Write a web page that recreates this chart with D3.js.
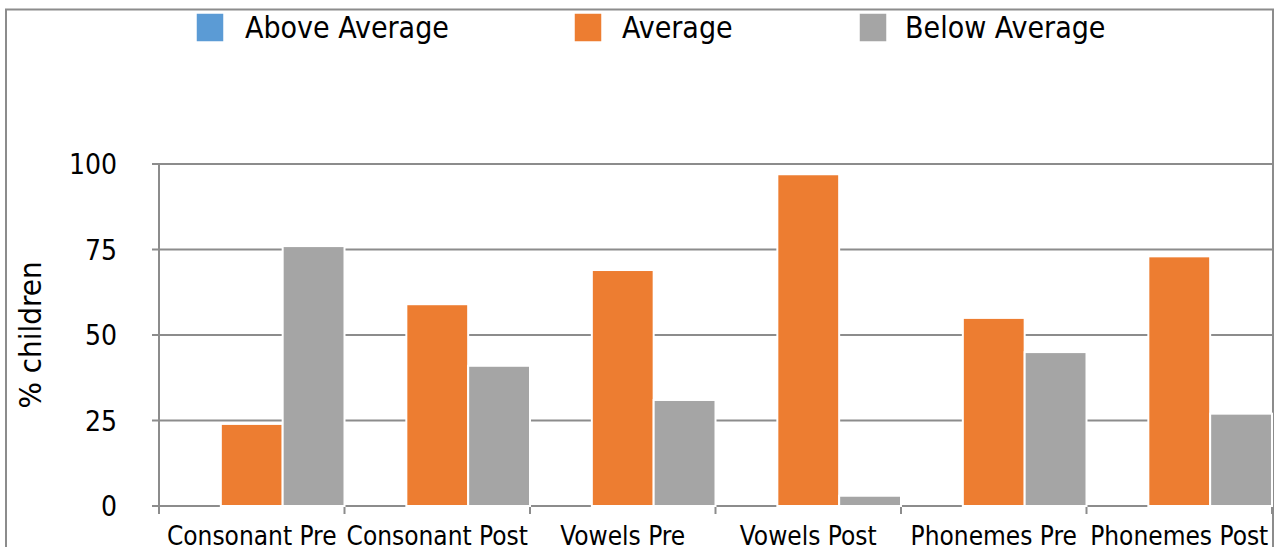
<!DOCTYPE html>
<html>
<head>
<meta charset="utf-8">
<script src="https://cdn.jsdelivr.net/npm/d3@7"></script>
<style>
  html, body { margin: 0; padding: 0; background: #ffffff; }
  svg { display: block; }
  text { font-family: "DejaVu Sans Condensed", "DejaVu Sans", sans-serif; fill: #000; }
</style>
</head>
<body>
<svg id="chart" width="1277" height="547"></svg>
<script>
// Test groups along the x axis
const categories = ["Consonant Pre", "Consonant Post", "Vowels Pre", "Vowels Post", "Phonemes Pre", "Phonemes Post"];
// Share of children (%) in each attainment band
const seriesNames = ["Above Average", "Average", "Below Average"];
const aboveAverage = [0, 0, 0, 0, 0, 0];
const average = [24, 59, 69, 97, 55, 73];
const belowAverage = [76, 41, 31, 3, 45, 27];
const yTicks = [0, 25, 50, 75, 100];
const seriesColors = ["#5B9BD5", "#ED7D31", "#A5A5A5"];

const seriesValues = [aboveAverage, average, belowAverage];
const rows = categories.map((c, i) => ({
  category: c,
  values: seriesNames.map((s, j) => ({ series: s, value: seriesValues[j][i] }))
}));

const svg = d3.select("#chart");
const plotLeft = 159, plotRight = 1272, plotTop = 164, plotBottom = 506;

const x = d3.scaleBand().domain(categories).range([plotLeft, plotRight]).paddingInner(0).paddingOuter(0);
const xInner = d3.scaleBand().domain(seriesNames).range([0, x.bandwidth()]).padding(0);
const y = d3.scaleLinear().domain([0, 100]).range([plotBottom, plotTop]);

const gridColor = "#8c8c8c";

// Outer frame
svg.append("rect")
  .attr("x", 6).attr("y", 9.5)
  .attr("width", 1267).attr("height", 600)
  .attr("fill", "none").attr("stroke", gridColor).attr("stroke-width", 2);

// Horizontal gridlines with short ticks to the left of the axis
svg.append("g")
  .selectAll("line")
  .data(yTicks)
  .join("line")
  .attr("x1", plotLeft - 7).attr("x2", plotRight)
  .attr("y1", d => y(d)).attr("y2", d => y(d))
  .attr("stroke", gridColor).attr("stroke-width", 2);

// Y tick labels
svg.append("g")
  .selectAll("text")
  .data(yTicks)
  .join("text")
  .attr("x", 117)
  .attr("y", d => y(d))
  .attr("dy", "0.36em")
  .attr("text-anchor", "end")
  .style("font-size", "28px")
  .text(d => d);

// Y axis line
svg.append("line")
  .attr("x1", plotLeft).attr("x2", plotLeft)
  .attr("y1", plotTop).attr("y2", plotBottom + 8)
  .attr("stroke", gridColor).attr("stroke-width", 2);

// Category boundary ticks under the baseline
const boundaries = categories.map(c => x(c) + x.bandwidth()).concat([x(categories[0])]);
svg.append("g")
  .selectAll("line")
  .data(boundaries)
  .join("line")
  .attr("x1", d => d).attr("x2", d => d)
  .attr("y1", plotBottom).attr("y2", plotBottom + 8)
  .attr("stroke", gridColor).attr("stroke-width", 2);

// Bars
const groups = svg.append("g")
  .selectAll("g")
  .data(rows)
  .join("g")
  .attr("transform", d => `translate(${x(d.category)},0)`);

groups.selectAll("rect")
  .data(d => d.values)
  .join("rect")
  .attr("x", d => xInner(d.series))
  .attr("width", xInner.bandwidth())
  .attr("y", d => y(d.value))
  .attr("height", d => y(0) - y(d.value))
  .attr("fill", (d, i) => seriesColors[i])
  .attr("stroke", "#ffffff")
  .attr("stroke-width", d => d.value > 0 ? 2 : 0);

// Category labels
svg.append("g")
  .selectAll("text")
  .data(categories)
  .join("text")
  .attr("x", d => x(d) + x.bandwidth() / 2)
  .attr("y", 545)
  .attr("text-anchor", "middle")
  .style("font-size", "26px")
  .text(d => d);

// Y axis title
svg.append("text")
  .attr("transform", "translate(41,335) rotate(-90)")
  .attr("text-anchor", "middle")
  .style("font-size", "31px")
  .text("% children");

// Legend
const legendX = [196, 574, 859];
const legend = svg.append("g")
  .selectAll("g")
  .data(seriesNames)
  .join("g")
  .attr("transform", (d, i) => `translate(${legendX[i]},13)`);

legend.append("rect")
  .attr("width", 28).attr("height", 29)
  .attr("fill", (d, i) => seriesColors[i])
  .attr("stroke", "#ffffff").attr("stroke-width", 1.5);

legend.append("text")
  .attr("x", (d, i) => [49, 48, 46][i])
  .attr("y", 25)
  .style("font-size", "30px")
  .text(d => d);
</script>
</body>
</html>
